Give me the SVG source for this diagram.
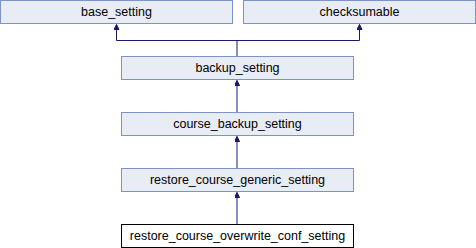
<svg xmlns="http://www.w3.org/2000/svg" width="476" height="248" viewBox="0 0 476 248">
  <style>
    .node rect { fill: #e8ecf5; stroke: #7b93c6; stroke-width: 1; }
    .node.current rect { fill: #ffffff; stroke: #000000; }
    .node text { font-family: "Liberation Sans", Arial, sans-serif; font-size: 12.5px; fill: #000000; text-anchor: middle; }
    .edge { fill: none; stroke: #191970; stroke-width: 1; }
    .head { fill: #191970; stroke: #191970; stroke-width: 1; }
  </style>
  <defs>
    <marker id="arrow" markerUnits="userSpaceOnUse" markerWidth="8" markerHeight="8" refX="5" refY="2.5" orient="auto">
      <path class="head" d="M0,0 L5,2.5 L0,5 Z"/>
    </marker>
  </defs>

  <g id="connectors">
    <!-- backup_setting to both parents -->
    <path class="edge" d="M237,56.5 V40.5 H116.5 V24.5" marker-end="url(#arrow)"/>
    <path class="edge" d="M237,40.5 H359.5 V24.5" marker-end="url(#arrow)"/>
    <!-- linear chain -->
    <path class="edge" d="M237,112.5 V80.5" marker-end="url(#arrow)"/>
    <path class="edge" d="M237,168.5 V136.5" marker-end="url(#arrow)"/>
    <path class="edge" d="M237,224.5 V192.5" marker-end="url(#arrow)"/>
  </g>

  <g id="base_setting" class="node">
    <rect x="0.5" y="0.5" width="232" height="23"/>
    <text x="116.5" y="16">base_setting</text>
  </g>
  <g id="checksumable" class="node">
    <rect x="243.5" y="0.5" width="232" height="23"/>
    <text x="359.5" y="16">checksumable</text>
  </g>
  <g id="backup_setting" class="node">
    <rect x="121.5" y="56.5" width="232" height="23"/>
    <text x="237.5" y="72">backup_setting</text>
  </g>
  <g id="course_backup_setting" class="node">
    <rect x="121.5" y="112.5" width="232" height="23"/>
    <text x="237.5" y="128">course_backup_setting</text>
  </g>
  <g id="restore_course_generic_setting" class="node">
    <rect x="121.5" y="168.5" width="232" height="23"/>
    <text x="237.5" y="184">restore_course_generic_setting</text>
  </g>
  <g id="restore_course_overwrite_conf_setting" class="node current">
    <rect x="121.5" y="224.5" width="232" height="23"/>
    <text x="237.5" y="240">restore_course_overwrite_conf_setting</text>
  </g>
</svg>
